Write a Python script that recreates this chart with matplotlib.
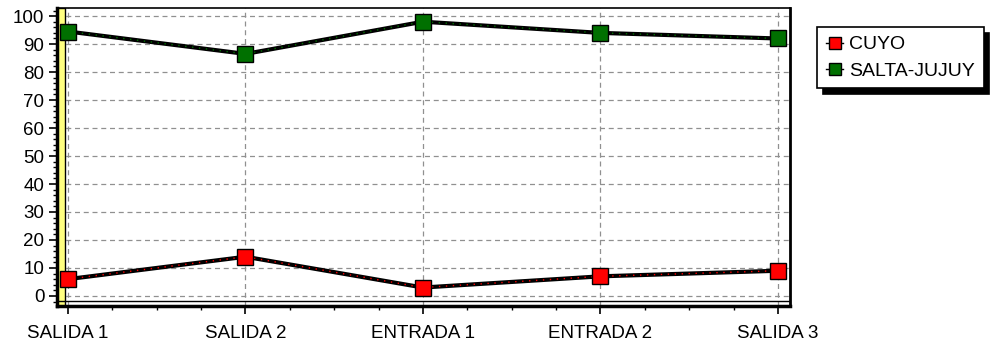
import matplotlib

matplotlib.use("Agg")
import matplotlib.pyplot as plt
from matplotlib.patches import Rectangle
from matplotlib.ticker import MultipleLocator

# valores
categorias = ["SALIDA 1", "SALIDA 2", "ENTRADA 1", "ENTRADA 2", "SALIDA 3"]
cuyo = [6, 14, 3, 7, 9]
salta_jujuy = [94.5, 86.5, 98, 94, 92]

plt.rcParams.update({
    "font.family": ["Liberation Sans", "DejaVu Sans"],
    "font.size": 13,
})

W, H = 992, 345
fig = plt.figure(figsize=(W / 100, H / 100), dpi=100)


def px(x0, y0, x1, y1):
    # caja en píxeles (arriba-izquierda) -> fracción de figura
    return [x0 / W, 1 - y1 / H, (x1 - x0) / W, (y1 - y0) / H]


ax = fig.add_axes(px(57, 8, 790, 306))
x = list(range(len(categorias)))

ax.plot(x, salta_jujuy, color="black", lw=3, zorder=3)
ax.plot(x, salta_jujuy, color="#007000", lw=1, ls=(0, (1, 4)), zorder=4)
ax.plot(x, cuyo, color="black", lw=3, zorder=3)
ax.plot(x, cuyo, color="#ff0000", lw=1, ls=(0, (1, 4)), zorder=4)
ax.plot(x, salta_jujuy, ls="none", marker="s", ms=11.5, mfc="#007000",
        mec="black", mew=1, zorder=5)
ax.plot(x, cuyo, ls="none", marker="s", ms=11.5, mfc="#ff0000",
        mec="black", mew=1, zorder=5)

ax.set_xlim(-0.062, 4.068)
ax.set_ylim(-3.6, 102.9)
ax.set_xticks(x)
ax.set_xticklabels(categorias)
ax.xaxis.set_minor_locator(MultipleLocator(0.25))
ax.set_yticks(range(0, 101, 10))
ax.yaxis.set_minor_locator(MultipleLocator(2))
ax.tick_params(axis="both", colors="black", labelsize=13.5, width=1.2)
ax.tick_params(axis="y", length=6, pad=3)
ax.tick_params(axis="x", length=6, pad=8)
ax.tick_params(which="minor", length=3, width=1)
ax.grid(True, color="#909090", ls=(0, (4, 3)), lw=0.9)

for lado, ancho in (("left", 2.5), ("bottom", 2.5), ("top", 1.2), ("right", 2)):
    ax.spines[lado].set_linewidth(ancho)
    ax.spines[lado].set_color("black")

# pared lateral amarilla y suelo del gráfico 3D
ax.add_patch(Rectangle((0, 0), 0.011, 1, transform=ax.transAxes,
                       facecolor="#ffff80", edgecolor="black", lw=1, zorder=2))
ax.axhline(-1.8, color="black", lw=1, zorder=2)

legend = fig.legend(
    handles=[
        plt.Line2D([], [], color="black", lw=1, marker="s", ms=9,
                   mfc="#ff0000", mec="black"),
        plt.Line2D([], [], color="black", lw=1, marker="s", ms=9,
                   mfc="#007000", mec="black"),
    ],
    labels=["CUYO", "SALTA-JUJUY"],
    loc="upper left", bbox_to_anchor=(817 / W, 1 - 27 / H), borderaxespad=0,
    frameon=True, fancybox=False, edgecolor="black", fontsize=14,
    handlelength=0.9, handletextpad=0.3, borderpad=0.45, labelspacing=0.45,
    shadow={"color": "black", "alpha": 1, "ox": 4, "oy": -4},
)
legend.get_frame().set_linewidth(1.2)

fig.savefig("out.png", dpi=100)
